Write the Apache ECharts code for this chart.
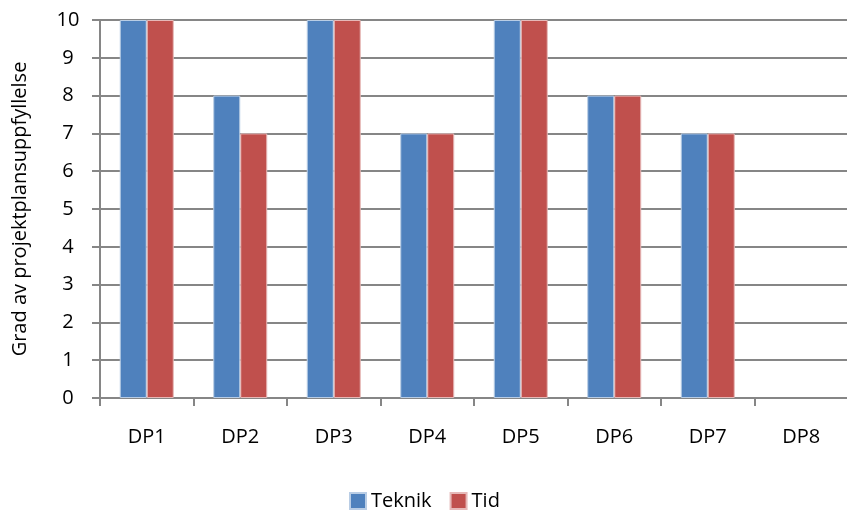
<!DOCTYPE html>
<html><head><meta charset="utf-8">
<script src="https://cdn.jsdelivr.net/npm/echarts@6/dist/echarts.min.js"></script>
<style>html,body{margin:0;padding:0;background:#fff}#c{width:847px;height:511px}</style>
</head><body><div id="c"></div>
<script>
var categories = ['DP1','DP2','DP3','DP4','DP5','DP6','DP7','DP8'];
var teknik = [10, 8, 10, 7, 10, 8, 7, null];
var tid = [10, 7, 10, 7, 10, 8, 7, null];
var yTicks = [0,1,2,3,4,5,6,7,8,9,10];
var FONT = 'Open Sans';
var chart = echarts.init(document.getElementById('c'));
chart.setOption({
  animation: false,
  textStyle: {fontFamily: FONT},
  grid: {left: 100, top: 20, width: 748, height: 378, containLabel: false, outerBoundsMode: 'none'},
  legend: {
    data: ['Teknik','Tid'], top: 486, left: 344,
    icon: 'rect', itemWidth: 16, itemHeight: 16, itemGap: 18,
    textStyle: {fontSize: 20, color: '#000', fontFamily: FONT}
  },
  xAxis: {
    type: 'category', data: categories,
    axisLine: {lineStyle: {color: '#868686', width: 2}},
    axisTick: {show: true, length: 8, lineStyle: {color: '#868686', width: 2}},
    axisLabel: {fontSize: 20, color: '#000', margin: 29, fontFamily: FONT}
  },
  yAxis: {
    type: 'value', min: yTicks[0], max: yTicks[yTicks.length-1], interval: 1,
    name: 'Grad av projektplansuppfyllelse', nameLocation: 'middle', nameGap: 70,
    nameTextStyle: {fontSize: 20, color: '#000', fontFamily: FONT},
    axisLine: {show: true, lineStyle: {color: '#868686', width: 2}},
    axisTick: {show: true, length: 8, lineStyle: {color: '#868686', width: 2}},
    axisLabel: {fontSize: 20, color: '#000', margin: 32, align: 'center', fontFamily: FONT},
    splitLine: {lineStyle: {color: '#868686', width: 2}}
  },
  series: [
    {name: 'Teknik', type: 'bar', data: teknik, barWidth: 27, barGap: '0%',
     itemStyle: {color: '#4F81BD', borderColor: '#B9CDE5', borderWidth: 1}},
    {name: 'Tid', type: 'bar', data: tid, barWidth: 27, barGap: '0%',
     itemStyle: {color: '#C0504D', borderColor: '#E6B9B8', borderWidth: 1}}
  ]
});
</script></body></html>
